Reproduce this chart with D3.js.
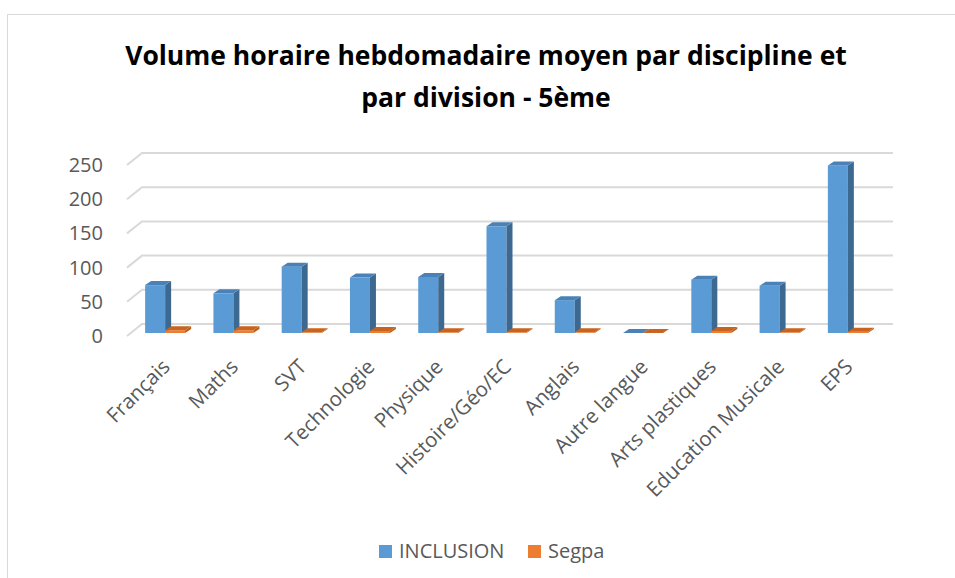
<!DOCTYPE html>
<html>
<head>
<meta charset="utf-8">
<script src="https://cdn.jsdelivr.net/npm/d3@7"></script>
<style>
  body { margin: 0; background: #fff; }
  text { font-family: "Open Sans", sans-serif; }
</style>
</head>
<body>
<svg id="chart" width="955" height="578"></svg>
<script>
// données
const categories = ["Français", "Maths", "SVT", "Technologie", "Physique", "Histoire/Géo/EC",
  "Anglais", "Autre langue", "Arts plastiques", "Education Musicale", "EPS"];
const seriesNames = ["INCLUSION", "Segpa"];
const inclusion = [70, 58, 97, 81, 82, 156, 48, 0, 78, 69, 245];
const segpa = [4, 4, 1, 3, 1, 1, 1, 0, 3, 1, 2];
const yTicks = [0, 50, 100, 150, 200, 250];
const titleLines = ["Volume horaire hebdomadaire moyen par discipline et", "par division - 5ème"];

const colors = {
  INCLUSION: { front: "#5b9bd5", side: "#3d6990", top: "#4a82b8" },
  Segpa: { front: "#ed7d31", side: "#b85d1c", top: "#c8641f" }
};

const svg = d3.select("#chart");

// cadre du graphique
svg.append("rect")
  .attr("x", 7.5).attr("y", 14.5)
  .attr("width", 970).attr("height", 600)
  .attr("fill", "#fff")
  .attr("stroke", "#d9d9d9");

// profondeur 3D
const wallDx = 15, wallDy = -12;   // décalage mur du fond
const barOff = { dx: 4, dy: -3 };   // face avant des barres
const barDepth = { dx: 6, dy: -4 };

const x = d3.scaleBand()
  .domain(categories)
  .range([127, 878]);

const xSub = d3.scaleBand()
  .domain(seriesNames)
  .range([0, 40]);

const y = d3.scaleLinear()
  .domain([0, 250])
  .range([336, 165]);

// grille (mur du fond + arête gauche)
const grid = svg.append("g").attr("class", "grid");
grid.selectAll("path")
  .data(yTicks)
  .enter().append("path")
  .attr("d", d => `M${x.range()[0]},${y(d)} l${wallDx},${wallDy} L${x.range()[1] + wallDx},${y(d) + wallDy}`)
  .attr("fill", "none")
  .attr("stroke", "#d9d9d9")
  .attr("stroke-width", 2);

// axe Y
svg.append("g")
  .selectAll("text")
  .data(yTicks)
  .enter().append("text")
  .attr("x", 103)
  .attr("y", d => y(d))
  .attr("dy", "0.35em")
  .attr("text-anchor", "end")
  .attr("font-size", 20)
  .attr("fill", "#595959")
  .text(d => d);

// barres 3D
const bars = [];
categories.forEach((c, i) => {
  bars.push({ cat: c, s: "INCLUSION", v: inclusion[i] });
  bars.push({ cat: c, s: "Segpa", v: segpa[i] });
});

const gx = c => x(c) + x.bandwidth() / 2 - 20 + barOff.dx;
const barG = svg.append("g").selectAll("g")
  .data(bars)
  .enter().append("g");

barG.each(function (d) {
  const g = d3.select(this);
  const x0 = gx(d.cat) + xSub(d.s);
  const w = xSub.bandwidth();
  const yb = y(0) + barOff.dy;
  const yt = yb - (y(0) - y(d.v));
  const c = colors[d.s];
  const dx = barDepth.dx, dy = barDepth.dy;
  // face avant
  g.append("rect")
    .attr("x", x0).attr("y", yt)
    .attr("width", w).attr("height", yb - yt)
    .attr("fill", c.front);
  // côté
  g.append("path")
    .attr("d", `M${x0 + w},${yt} l${dx},${dy} L${x0 + w + dx},${yb + dy} L${x0 + w},${yb}Z`)
    .attr("fill", c.side);
  // dessus
  g.append("path")
    .attr("d", `M${x0},${yt} l${dx},${dy} l${w},0 l${-dx},${-dy}Z`)
    .attr("fill", c.top);
});

// étiquettes des catégories
svg.append("g")
  .selectAll("text")
  .data(categories)
  .enter().append("text")
  .attr("transform", d => `translate(${x(d) + x.bandwidth() / 2 + 10},${368}) rotate(-45)`)
  .attr("text-anchor", "end")
  .attr("font-size", 20.5)
  .attr("fill", "#595959")
  .text(d => d);

// titre
svg.append("g")
  .selectAll("text")
  .data(titleLines)
  .enter().append("text")
  .attr("x", 486)
  .attr("y", (d, i) => 65 + i * 42)
  .attr("text-anchor", "middle")
  .attr("font-size", 26.5)
  .attr("font-weight", "bold")
  .attr("fill", "#000")
  .text(d => d);

// légende
const legend = svg.append("g");
const legendX = [379, 528];
seriesNames.forEach((s, i) => {
  legend.append("rect")
    .attr("x", legendX[i]).attr("y", 545)
    .attr("width", 13).attr("height", 13)
    .attr("fill", colors[s].front);
  legend.append("text")
    .attr("x", legendX[i] + 20).attr("y", 558)
    .attr("font-size", 20)
    .attr("fill", "#595959")
    .text(s);
});
</script>
</body>
</html>
